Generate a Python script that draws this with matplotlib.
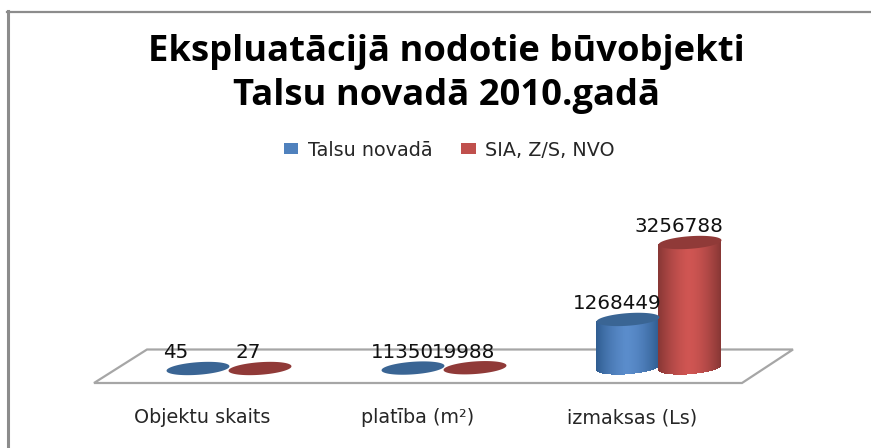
import numpy as np
import matplotlib
matplotlib.use('Agg')
import matplotlib.pyplot as plt
from matplotlib.patches import Patch, Polygon
from matplotlib.lines import Line2D

categories = ['Objektu skaits', 'platība (m²)', 'izmaksas (Ls)']
talsu = [45, 11350, 1268449]
sia = [27, 19988, 3256788]
series_names = ['Talsu novadā', 'SIA, Z/S, NVO']

W, H = 871, 448
fig = plt.figure(figsize=(W / 100, H / 100), dpi=100)

# layer for the frame and the floor, in picture pixels
bg = fig.add_axes([0, 0, 1, 1])
bg.set_xlim(0, W)
bg.set_ylim(H, 0)
bg.axis('off')
bg.add_line(Line2D([8, 8], [H, 11], color='#8c8c8c', lw=2.2))
bg.add_line(Line2D([7, W], [12, 12], color='#8c8c8c', lw=1.6))
bg.add_patch(Polygon([[94, 383], [147, 349.5], [793, 349.5], [742, 383]],
                     closed=True, fc='white', ec='#a6a6a6', lw=1.6))

# the chart axes: bottom edge on the front of the floor, no visible frame
px_top, px_bottom = 12, 383
ax = fig.add_axes([0, 1 - px_bottom / H, 1, (px_bottom - px_top) / H])
ax.patch.set_alpha(0)
for s in ax.spines.values():
    s.set_visible(False)

spacing = 215.0     # px between categories
first_x = 228.5     # px of first category
val_per_px = 3256788 / 126.0
base_px = 368
ax.set_xlim(-first_x / spacing, (W - first_x) / spacing)
ax.set_ylim(-(px_bottom - base_px) * val_per_px, (base_px - px_top) * val_per_px)

x = np.arange(len(categories))
# the labels sit a bit left of the bars in the original
ax.set_xticks(x - 26 / spacing)
ax.set_xticklabels(categories, fontsize=13.8, color='#262626')
ax.tick_params(axis='x', length=0, pad=18)
ax.set_yticks([])


def shade(c_edge, c_mid, t):
    # t from -1 to 1 across the cylinder
    k = 1 - abs(t) ** 1.6
    c_edge = np.array(matplotlib.colors.to_rgb(c_edge))
    c_mid = np.array(matplotlib.colors.to_rgb(c_mid))
    return c_edge + (c_mid - c_edge) * k


def cylinder(cx, value, edge, mid, cap):
    a = 31.5 / spacing
    b = 6.3 * val_per_px
    tilt = 0.07 * val_per_px * spacing
    xs = np.linspace(-a, a, 200)
    root = np.sqrt(1 - (xs / a) ** 2)
    if value > 100000:
        n = 64
        edges = np.linspace(-a, a, n + 1)
        for i in range(n):
            mid_x = (edges[i] + edges[i + 1]) / 2
            r = np.sqrt(1 - (mid_x / a) ** 2)
            low = tilt * mid_x - b * r
            high = value + tilt * mid_x
            ax.bar(cx + mid_x, high - low, bottom=low, width=2 * a / n * 1.15,
                   color=shade(edge, mid, mid_x / a), lw=0)
    ax.fill_between(cx + xs, value + tilt * xs - b * root, value + tilt * xs + b * root,
                    color=cap, lw=0, zorder=3)


offset = 31 / spacing
for i in x:
    cylinder(i - offset, talsu[i], '#2f5c90', '#5a8ccb', '#3a6594')
for i in x:
    cylinder(i + offset, sia[i], '#863634', '#cf5552', '#903a38')

label_font = dict(fontsize=14.3, color='#111111', ha='center', va='center',
                  textcoords='offset pixels')
for i in x:
    shift = -22 if i == 0 else -10
    ax.annotate(str(talsu[i]), (i - offset, talsu[i]), xytext=(shift, 15), zorder=5, **label_font)
    ax.annotate(str(sia[i]), (i + offset, sia[i]), xytext=(-11, 15), zorder=5, **label_font)

handles = [Patch(fc='#4f81bd', ec='none'), Patch(fc='#c0504d', ec='none')]
fig.legend(handles, series_names, loc='center', bbox_to_anchor=(449.5 / W, 1 - 150 / H),
           ncol=2, frameon=False, fontsize=13.8, labelcolor='#262626',
           handlelength=0.75, handleheight=0.5, columnspacing=1.5, handletextpad=0.5)

fig.text(446 / W, 1 - 52 / H, 'Ekspluatācijā nodotie būvobjekti', fontsize=26.2, fontweight='bold',
         family='Open Sans', ha='center', va='center', color='black')
fig.text(446 / W, 1 - 96 / H, 'Talsu novadā 2010.gadā', fontsize=26.2, fontweight='bold',
         family='Open Sans', ha='center', va='center', color='black')

fig.savefig('out.png', dpi=100, facecolor='white')
